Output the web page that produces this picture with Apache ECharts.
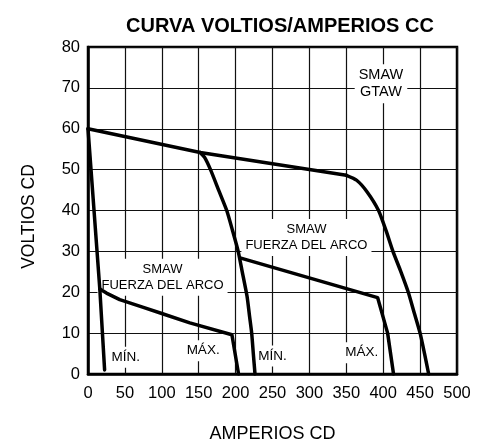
<!doctype html>
<html lang="es">
<head>
<meta charset="UTF-8">
<title>Curva voltios/amperios CC</title>
<script src="https://cdn.jsdelivr.net/npm/echarts@6/dist/echarts.min.js"></script>
<style>
  html, body { margin: 0; padding: 0; background: #fff; }
  #main { width: 481px; height: 448px; }
</style>
</head>
<body>
<div id="main"></div>
<script>
// tick values
var xTicks = [0, 50, 100, 150, 200, 250, 300, 350, 400, 450, 500];
var yTicks = [0, 10, 20, 30, 40, 50, 60, 70, 80];

// curves, [amperios, voltios]
var minSteep = [[0, 60], [16, 20.8], [22.5, 1]];
var maxLow = [[16, 20.8], [25, 19.8], [43, 18.2], [75, 16.3], [100, 14.8], [138, 12.5], [195, 9.6], [204, 0]];
var topLine = [[0, 60], [152, 54.2], [350, 48.6]];
var min150 = [[152, 54.2], [158, 53], [166, 50], [177, 45], [188, 40], [196, 35], [203.5, 30], [209, 25], [215.5, 19], [219, 14], [221.8, 10], [224, 5], [226.3, 0]];
var maxMid = [[206, 28.4], [392.4, 18.7], [406, 10], [414, 0]];
var topCurve = [[350, 48.6], [364, 47.4], [378, 44.6], [393.7, 40], [404, 35], [413.2, 30], [424, 25], [434, 20], [442, 15], [450, 10], [456, 5], [461.6, 0]];

// annotations
var notes = [
  { pos: [397, 71], text: 'SMAW\nGTAW', size: 14.5 },
  { pos: [296, 33.4], text: 'SMAW\nFUERZA DEL ARCO', size: 13 },
  { pos: [101, 23.7], text: 'SMAW\nFUERZA DEL ARCO', size: 13 },
  { pos: [51, 4.1], text: 'MÍN.', size: 13.5 },
  { pos: [156, 5.7], text: 'MÁX.', size: 13.5 },
  { pos: [250, 4.4], text: 'MÍN.', size: 13.5 },
  { pos: [371, 5.2], text: 'MÁX.', size: 13.5 }
];

var font = '"Liberation Sans", Arial, sans-serif';

function curve(d, smooth) {
  return {
    type: 'line', data: d, symbol: 'none', z: 5,
    smooth: smooth || false,
    lineStyle: { color: '#000', width: 3.5, join: 'round', cap: 'round' }
  };
}

var myChart = echarts.init(document.getElementById('main'));

var series = [
  curve(minSteep),
  curve(maxLow),
  curve(topLine),
  curve(min150, 0.2),
  curve(maxMid),
  curve(topCurve, 0.2)
];

series.push({
  type: 'scatter', symbolSize: 0, z: 3,
  itemStyle: { color: '#000', opacity: 1 },
  data: notes.map(function (n) {
    return {
      value: n.pos,
      label: {
        show: true, position: 'inside', formatter: n.text,
        fontFamily: font, fontSize: n.size, color: '#000', lineHeight: Math.round(n.size * 1.2),
        textBorderWidth: 0, backgroundColor: '#fff', padding: [3, 4, 2, 4], align: 'center'
      }
    };
  })
});

var option = {
  animation: false,
  title: {
    text: 'CURVA VOLTIOS/AMPERIOS CC',
    left: 275, top: 11, textAlign: 'center',
    textStyle: { fontFamily: font, fontSize: 20, fontWeight: 'bold', color: '#000' }
  },
  grid: { left: 88, right: 24, top: 47, bottom: 70, show: true, borderColor: '#000', borderWidth: 2.5 },
  xAxis: {
    type: 'value', min: xTicks[0], max: xTicks[xTicks.length - 1], interval: 50,
    name: 'AMPERIOS CD', nameLocation: 'middle', nameGap: 51,
    nameTextStyle: { fontFamily: font, fontSize: 18, color: '#000' },
    axisLine: { show: true, lineStyle: { color: '#000', width: 2.5 } },
    axisTick: { show: false },
    axisLabel: { fontFamily: font, fontSize: 16.5, color: '#000', margin: 11 },
    splitLine: { show: true, lineStyle: { color: '#111', width: 1.2 } }
  },
  yAxis: {
    type: 'value', min: yTicks[0], max: yTicks[yTicks.length - 1], interval: 10,
    name: 'VOLTIOS CD', nameLocation: 'middle', nameGap: 50,
    nameTextStyle: { fontFamily: font, fontSize: 17.5, color: '#000', padding: [0, 12, 0, 0] },
    axisLine: { show: true, lineStyle: { color: '#000', width: 2.5 } },
    axisTick: { show: false },
    axisLabel: { fontFamily: font, fontSize: 16.5, color: '#000', margin: 8 },
    splitLine: { show: true, lineStyle: { color: '#111', width: 1.2 } }
  },
  series: series
};

myChart.setOption(option);
</script>
</body>
</html>
